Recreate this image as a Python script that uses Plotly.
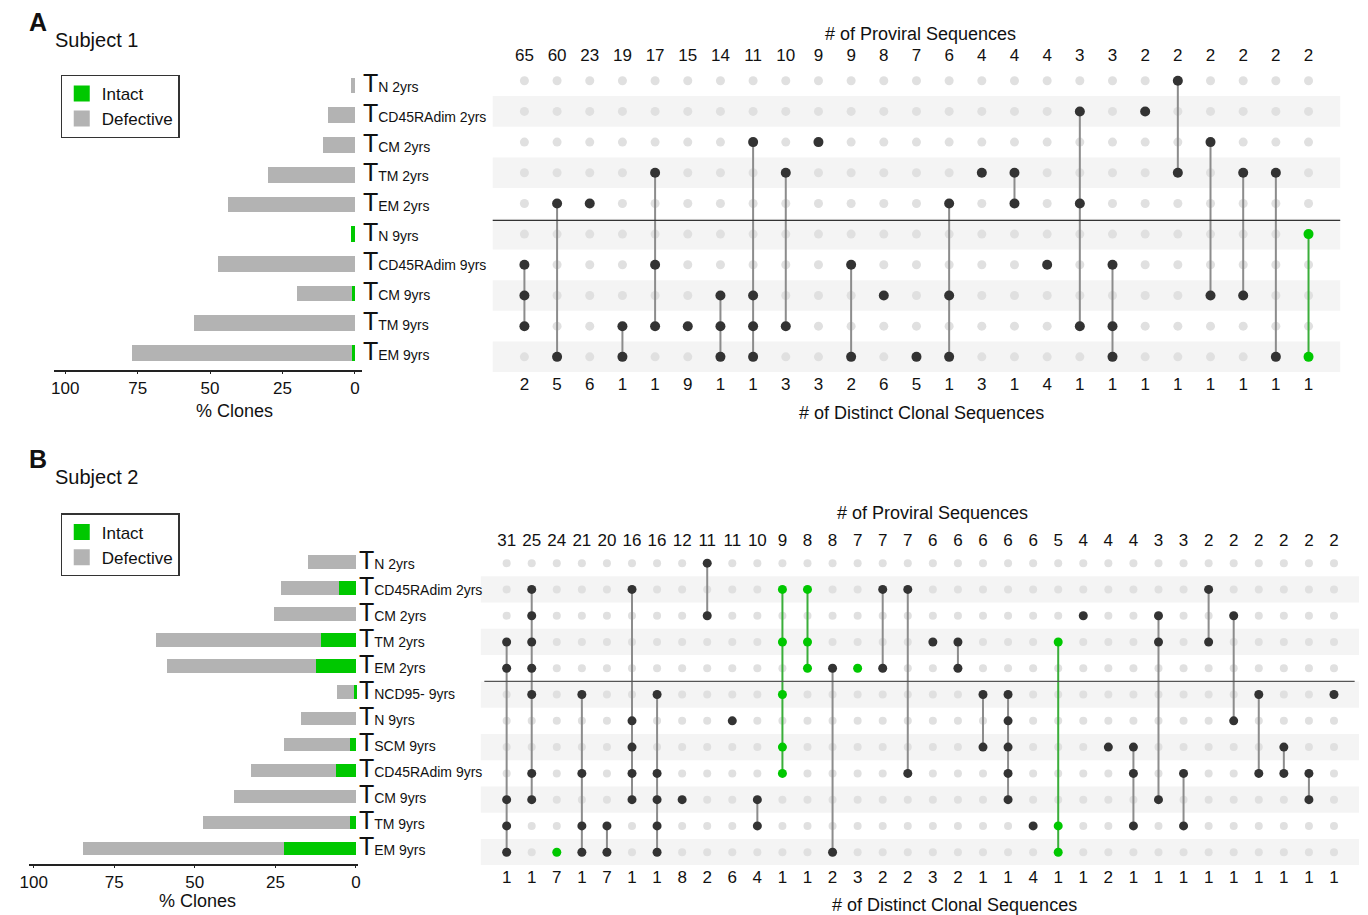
import plotly.graph_objects as go

W, H = 1368, 915
FONT = "Liberation Sans, Arial, Helvetica, sans-serif"
GREEN = "#00c800"
GREEN_LINE = "#3aae3a"
GRAY_BAR = "#b3b3b3"
BG_DOT = "#e0e0e0"
DARK_DOT = "#333333"
LINE_GRAY = "#8c8c8c"
BAND = "#f4f4f4"
TXT = "#111111"

# ---------------- Panel A (Subject 1) ----------------
A_subs = ["N 2yrs", "CD45RAdim 2yrs", "CM 2yrs", "TM 2yrs", "EM 2yrs",
          "N 9yrs", "CD45RAdim 9yrs", "CM 9yrs", "TM 9yrs", "EM 9yrs"]
A_intact = [0, 0, 0, 0, 0, 1.3, 0, 1.0, 0, 0.9]
A_defective = [1.4, 9.2, 11.0, 30.0, 43.8, 0, 47.3, 19.0, 55.5, 76.0]

A_proviral = [65, 60, 23, 19, 17, 15, 14, 11, 10, 9, 9, 8, 7, 6, 4, 4, 4, 3, 3, 2, 2, 2, 2, 2, 2]
A_distinct = [2, 5, 6, 1, 1, 9, 1, 1, 3, 3, 2, 6, 5, 1, 3, 1, 4, 1, 1, 1, 1, 1, 1, 1, 1]
A_members = [[6, 7, 8], [4, 9], [4], [8, 9], [3, 6, 8], [8], [7, 8, 9], [2, 7, 8, 9], [3, 8], [2],
             [6, 9], [7], [9], [4, 7, 9], [3], [3, 4], [6], [1, 4, 8], [6, 8, 9], [1],
             [0, 3], [2, 7], [3, 7], [3, 9], [5, 9]]
A_intact_cols = [24]

# ---------------- Panel B (Subject 2) ----------------
B_subs = ["N 2yrs", "CD45RAdim 2yrs", "CM 2yrs", "TM 2yrs", "EM 2yrs", "NCD95- 9yrs",
          "N 9yrs", "SCM 9yrs", "CD45RAdim 9yrs", "CM 9yrs", "TM 9yrs", "EM 9yrs"]
B_intact = [0, 5.4, 0, 10.8, 12.3, 0.5, 0, 1.7, 6.2, 0, 2.0, 22.4]
B_defective = [14.8, 17.9, 25.3, 51.3, 46.2, 5.4, 17.1, 20.5, 26.4, 37.9, 45.4, 62.4]

B_proviral = [31, 25, 24, 21, 20, 16, 16, 12, 11, 11, 10, 9, 8, 8, 7, 7, 7,
              6, 6, 6, 6, 6, 5, 4, 4, 4, 3, 3, 2, 2, 2, 2, 2, 2]
B_distinct = [1, 1, 7, 1, 7, 1, 1, 8, 2, 6, 4, 1, 1, 2, 3, 2, 2,
              3, 2, 1, 1, 4, 1, 1, 2, 1, 1, 1, 1, 1, 1, 1, 1, 1]
B_members = [[3, 4, 9, 10, 11], [1, 2, 3, 4, 5, 8, 9], [11], [5, 8, 10, 11], [10, 11],
             [1, 6, 7, 8, 9], [5, 8, 9, 10, 11], [9], [0, 2], [6], [9, 10],
             [1, 3, 5, 7, 8], [1, 3, 4], [4, 11], [4], [1, 4], [1, 8],
             [3], [3, 4], [5, 7], [5, 6, 7, 8, 9], [10], [3, 10, 11], [2], [7],
             [7, 8, 10], [2, 3, 9], [8, 10], [1, 3], [2, 6], [5, 8], [7, 8], [8, 9], [5]]
B_intact_cols = [2, 11, 12, 14, 22]


def label(sub):
    return ('<span style="font-size:25px">T</span>'
            '<span style="font-size:14px">' + sub + '</span>')


A_rows = [label(s) for s in A_subs]
B_rows = [label(s) for s in B_subs]


def px(x):
    return x / W


def py(y):
    return 1 - y / H


fig = go.Figure()


def add_bars(rows, intact, defective, xa, ya, legend):
    fig.add_trace(go.Bar(y=rows, x=intact, orientation="h", name="Intact",
                         marker=dict(color=GREEN, line=dict(width=0)),
                         xaxis=xa, yaxis=ya, showlegend=False, width=0.53))
    fig.add_trace(go.Bar(y=rows, x=defective, orientation="h", name="Defective",
                         marker=dict(color=GRAY_BAR, line=dict(width=0)),
                         xaxis=xa, yaxis=ya, showlegend=False, width=0.53))
    # legend entries (large square swatches)
    for nm, col in (("Intact", GREEN), ("Defective", GRAY_BAR)):
        fig.add_trace(go.Scatter(x=[None], y=[None], mode="markers", name=nm,
                                 marker=dict(symbol="square", size=16, color=col, line=dict(width=0)),
                                 xaxis=xa, yaxis=ya, legend=legend, showlegend=True))


def add_matrix(members, intact_cols, nrows, xa, ya, bg_size, dot_size):
    ncols = len(members)
    gx = [c for c in range(ncols) for r in range(nrows)]
    gy = [r for c in range(ncols) for r in range(nrows)]
    fig.add_trace(go.Scatter(x=gx, y=gy, mode="markers",
                             marker=dict(size=bg_size, color=BG_DOT),
                             xaxis=xa, yaxis=ya, hoverinfo="skip", showlegend=False))
    for intact in (False, True):
        lx, ly, dx, dy = [], [], [], []
        for c, rws in enumerate(members):
            if (c in intact_cols) != intact:
                continue
            if len(rws) > 1:
                lx += [c, c, None]
                ly += [min(rws), max(rws), None]
            dx += [c] * len(rws)
            dy += rws
        fig.add_trace(go.Scatter(x=lx, y=ly, mode="lines",
                                 line=dict(color=GREEN_LINE if intact else LINE_GRAY, width=2),
                                 xaxis=xa, yaxis=ya, hoverinfo="skip", showlegend=False))
        fig.add_trace(go.Scatter(x=dx, y=dy, mode="markers",
                                 marker=dict(size=dot_size, color=GREEN if intact else DARK_DOT),
                                 xaxis=xa, yaxis=ya, showlegend=False))


add_bars(A_rows, A_intact, A_defective, "x", "y", "legend")
add_bars(B_rows, B_intact, B_defective, "x3", "y3", "legend2")
add_matrix(A_members, A_intact_cols, len(A_rows), "x2", "y2", 9, 10)
add_matrix(B_members, B_intact_cols, len(B_rows), "x4", "y4", 8, 9)

# invisible anchors for the top (proviral) axes
fig.add_trace(go.Scatter(x=[0], y=[0], mode="markers", marker=dict(opacity=0),
                         xaxis="x5", yaxis="y2", hoverinfo="skip", showlegend=False))
fig.add_trace(go.Scatter(x=[0], y=[0], mode="markers", marker=dict(opacity=0),
                         xaxis="x6", yaxis="y4", hoverinfo="skip", showlegend=False))

# stripes and separator lines
shapes = []
for r in range(1, len(A_rows), 2):
    shapes.append(dict(type="rect", xref="x2 domain", yref="y2", x0=0, x1=1,
                       y0=r - 0.5, y1=r + 0.5, fillcolor=BAND, line=dict(width=0), layer="below"))
for r in range(1, len(B_rows), 2):
    shapes.append(dict(type="rect", xref="x4 domain", yref="y4", x0=0, x1=1,
                       y0=r - 0.5, y1=r + 0.5, fillcolor=BAND, line=dict(width=0), layer="below"))
shapes.append(dict(type="line", xref="x2 domain", yref="y2", x0=0, x1=1, y0=4.55, y1=4.55,
                   line=dict(color="#333333", width=1.2)))
shapes.append(dict(type="line", xref="x4 domain", yref="y4", x0=0.004, x1=0.995, y0=4.5, y1=4.5,
                   line=dict(color="#555555", width=1.2)))

bar_x = dict(showline=True, linecolor="#222222", linewidth=1.5, ticks="outside", ticklen=2,
             tickcolor="#222222", tickvals=[0, 25, 50, 75, 100], showgrid=False, zeroline=False,
             tickfont=dict(size=17, color=TXT), autorange=False)
bar_y = dict(side="right", showline=False, showgrid=False, zeroline=False, ticks="",
             tickfont=dict(size=19, color=TXT), autorange=False)
mat_x = dict(showline=False, showgrid=False, zeroline=False, ticks="",
             tickfont=dict(size=17, color=TXT), autorange=False)
mat_y = dict(showline=False, showgrid=False, zeroline=False, showticklabels=False,
             ticks="", autorange=False)

leg = dict(xanchor="left", yanchor="top", bgcolor="white", bordercolor="#333333",
           borderwidth=1.2, font=dict(size=17, color=TXT), traceorder="normal",
           itemclick=False, itemdoubleclick=False, tracegroupgap=0, itemsizing="trace")

fig.update_layout(
    width=W, height=H, margin=dict(l=0, r=0, t=0, b=0),
    paper_bgcolor="white", plot_bgcolor="rgba(0,0,0,0)",
    font=dict(family=FONT, color=TXT),
    barmode="stack", bargap=0.47,
    shapes=shapes,
    xaxis=dict(bar_x, domain=[px(45), px(356)], range=[104, -2.4], anchor="y"),
    yaxis=dict(bar_y, domain=[py(368), py(68)], range=[9.57, -0.5], anchor="x"),
    xaxis3=dict(bar_x, domain=[px(20), px(352)], range=[101.5, -0.6], anchor="y3"),
    yaxis3=dict(bar_y, domain=[py(864), py(548)], range=[11.6, -0.5], anchor="x3"),
    xaxis2=dict(mat_x, domain=[px(488), px(1343)], range=[-0.97, 24.97], anchor="y2",
                tickvals=list(range(len(A_distinct))), ticktext=[str(v) for v in A_distinct]),
    yaxis2=dict(mat_y, domain=[py(370.4), py(62.6)], range=[9.5, -0.5], anchor="x2"),
    xaxis5=dict(mat_x, overlaying="x2", side="top", range=[-0.97, 24.97], anchor="y2",
                tickvals=list(range(len(A_proviral))), ticktext=[str(v) for v in A_proviral]),
    xaxis4=dict(mat_x, domain=[px(476), px(1362)], range=[-1.03, 34.0], anchor="y4",
                tickvals=list(range(len(B_distinct))), ticktext=[str(v) for v in B_distinct]),
    yaxis4=dict(mat_y, domain=[py(865.2), py(548.8)], range=[11.5, -0.5], anchor="x4"),
    xaxis6=dict(mat_x, overlaying="x4", side="top", range=[-1.03, 34.0], anchor="y4",
                tickvals=list(range(len(B_proviral))), ticktext=[str(v) for v in B_proviral]),
    legend=dict(leg, x=px(52), y=py(72)),
    legend2=dict(leg, x=px(52), y=py(512)),
)

ann = [
    dict(text="<b>A</b>", x=px(18), y=py(19), xanchor="left", yanchor="middle", font=dict(size=25)),
    dict(text="Subject 1", x=px(44), y=py(37), xanchor="left", yanchor="middle", font=dict(size=20)),
    dict(text="<b>B</b>", x=px(18), y=py(458), xanchor="left", yanchor="middle", font=dict(size=25)),
    dict(text="Subject 2", x=px(44), y=py(476), xanchor="left", yanchor="middle", font=dict(size=20)),
    dict(text="% Clones", x=px(227), y=py(409), xanchor="center", yanchor="middle", font=dict(size=18)),
    dict(text="% Clones", x=px(190), y=py(901), xanchor="center", yanchor="middle", font=dict(size=18)),
    dict(text="# of Proviral Sequences", x=px(920), y=py(31), xanchor="center", yanchor="middle", font=dict(size=18)),
    dict(text="# of Distinct Clonal Sequences", x=px(921), y=py(411), xanchor="center", yanchor="middle", font=dict(size=18)),
    dict(text="# of Proviral Sequences", x=px(932), y=py(512), xanchor="center", yanchor="middle", font=dict(size=18)),
    dict(text="# of Distinct Clonal Sequences", x=px(954), y=py(905), xanchor="center", yanchor="middle", font=dict(size=18)),
]
for a in ann:
    a.update(xref="paper", yref="paper", showarrow=False)
    a["font"] = dict(a["font"], family=FONT, color=TXT)
fig.update_layout(annotations=ann)

fig.write_html("out.html", config={"displayModeBar": False},
               post_script="document.body.style.margin='0px';")
